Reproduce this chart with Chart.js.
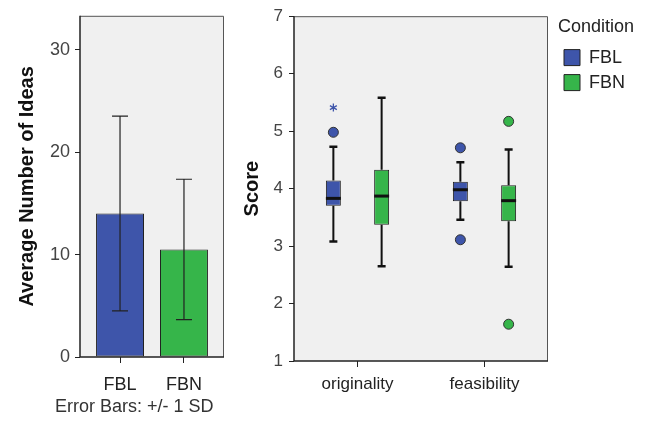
<!DOCTYPE html>
<html>
<head>
<meta charset="utf-8">
<script src="https://cdn.jsdelivr.net/npm/chart.js@4.4.0/dist/chart.umd.min.js"></script>
<style>
  html, body { margin: 0; padding: 0; background: #fff; }
  #wrap { position: relative; width: 646px; height: 423px; }
  #barWrap { position: absolute; left: 0; top: 0; width: 240px; height: 423px; }
  #boxWrap { position: absolute; left: 240px; top: 0; width: 406px; height: 423px; }
</style>
</head>
<body>
<div id="wrap">
  <div id="barWrap"><canvas id="barChart"></canvas></div>
  <div id="boxWrap"><canvas id="boxChart"></canvas></div>
</div>
<script>
// left panel: mean number of ideas, +/- 1 SD
const conditions = ['FBL', 'FBN'];
const meanIdeas = [14.0, 10.5];
const sdIdeas = [9.5, 6.85];

// right panel: score boxplots
const criteria = ['originality', 'feasibility'];
const fblLow = [3.08, 3.46];
const fblQ1 = [3.70, 3.78];
const fblMedian = [3.83, 3.98];
const fblQ3 = [4.14, 4.12];
const fblHigh = [4.73, 4.46];
const fblOutliers = [[4.98], [4.71, 3.11]];
const fblExtremes = [[5.41], []];

const fbnLow = [2.65, 2.64];
const fbnQ1 = [3.37, 3.43];
const fbnMedian = [3.87, 3.79];
const fbnQ3 = [4.33, 4.06];
const fbnHigh = [5.58, 4.68];
const fbnOutliers = [[], [5.17, 1.64]];
const fbnExtremes = [[], []];

const fontFamily = '"Liberation Sans", Arial, sans-serif';
const blue = '#3E55AA';
const green = '#36B54A';

const boxSeries = [
  { label: 'FBL', color: blue, low: fblLow, q1: fblQ1, median: fblMedian, q3: fblQ3, high: fblHigh, outliers: fblOutliers, extremes: fblExtremes },
  { label: 'FBN', color: green, low: fbnLow, q1: fbnQ1, median: fbnMedian, q3: fbnQ3, high: fbnHigh, outliers: fbnOutliers, extremes: fbnExtremes }
];

// grey plot background + frame
const plotFrame = {
  id: 'plotFrame',
  beforeDraw(chart) {
    const a = chart.chartArea;
    const ctx = chart.ctx;
    ctx.save();
    ctx.fillStyle = '#F0F0F0';
    ctx.fillRect(a.left, a.top, a.right - a.left, a.bottom - a.top);
    ctx.restore();
  },
  afterDatasetsDraw(chart) {
    const a = chart.chartArea;
    const ctx = chart.ctx;
    ctx.save();
    ctx.lineWidth = 1;
    ctx.strokeStyle = '#555';
    ctx.beginPath();
    ctx.moveTo(a.left, a.top + 0.5);
    ctx.lineTo(a.right - 0.5, a.top + 0.5);
    ctx.lineTo(a.right - 0.5, a.bottom);
    ctx.stroke();
    ctx.lineWidth = 1.5;
    ctx.strokeStyle = '#222';
    ctx.beginPath();
    ctx.moveTo(a.left, a.top);
    ctx.lineTo(a.left, a.bottom);
    ctx.lineTo(a.right, a.bottom);
    ctx.stroke();
    ctx.restore();
  }
};

const errorBars = {
  id: 'errorBars',
  afterDatasetsDraw(chart) {
    const ctx = chart.ctx;
    const y = chart.scales.y;
    const meta = chart.getDatasetMeta(0);
    ctx.save();
    ctx.strokeStyle = '#222';
    ctx.lineWidth = 1.2;
    meta.data.forEach((bar, i) => {
      const top = y.getPixelForValue(meanIdeas[i] + sdIdeas[i]);
      const bottom = y.getPixelForValue(meanIdeas[i] - sdIdeas[i]);
      ctx.beginPath();
      ctx.moveTo(bar.x, top);
      ctx.lineTo(bar.x, bottom);
      ctx.moveTo(bar.x - 8, top);
      ctx.lineTo(bar.x + 8, top);
      ctx.moveTo(bar.x - 8, bottom);
      ctx.lineTo(bar.x + 8, bottom);
      ctx.stroke();
    });
    ctx.restore();
  },
  afterDraw(chart) {
    const ctx = chart.ctx;
    ctx.save();
    ctx.fillStyle = '#333';
    ctx.font = '18px ' + fontFamily;
    ctx.textAlign = 'left';
    ctx.textBaseline = 'middle';
    ctx.fillText('Error Bars: +/- 1 SD', 55, chart.chartArea.bottom + 50);
    ctx.restore();
  }
};

const boxWhiskers = {
  id: 'boxWhiskers',
  afterDatasetsDraw(chart) {
    const ctx = chart.ctx;
    const y = chart.scales.y;
    boxSeries.forEach((s, d) => {
      const meta = chart.getDatasetMeta(d);
      meta.data.forEach((box, i) => {
        const x = box.x;
        const half = box.width / 2;
        const yHigh = y.getPixelForValue(s.high[i]);
        const yLow = y.getPixelForValue(s.low[i]);
        ctx.save();
        ctx.strokeStyle = '#111';
        ctx.lineWidth = 2;
        ctx.beginPath();
        ctx.moveTo(x, y.getPixelForValue(s.q3[i]));
        ctx.lineTo(x, yHigh);
        ctx.moveTo(x, y.getPixelForValue(s.q1[i]));
        ctx.lineTo(x, yLow);
        ctx.stroke();
        ctx.lineWidth = 2.5;
        ctx.beginPath();
        ctx.moveTo(x - 4, yHigh);
        ctx.lineTo(x + 4, yHigh);
        ctx.moveTo(x - 4, yLow);
        ctx.lineTo(x + 4, yLow);
        ctx.stroke();
        // median
        const yMed = y.getPixelForValue(s.median[i]);
        ctx.lineWidth = 3;
        ctx.beginPath();
        ctx.moveTo(x - half, yMed);
        ctx.lineTo(x + half, yMed);
        ctx.stroke();
        // outliers
        ctx.fillStyle = s.color;
        ctx.lineWidth = 1;
        ctx.strokeStyle = '#333';
        s.outliers[i].forEach(v => {
          ctx.beginPath();
          ctx.arc(x, y.getPixelForValue(v), 5, 0, Math.PI * 2);
          ctx.fill();
          ctx.stroke();
        });
        // extremes (asterisk)
        ctx.strokeStyle = s.color;
        ctx.lineWidth = 1.3;
        s.extremes[i].forEach(v => {
          const py = y.getPixelForValue(v);
          ctx.beginPath();
          for (let k = 0; k < 3; k++) {
            const ang = Math.PI / 2 + k * Math.PI / 3;
            ctx.moveTo(x - 4 * Math.cos(ang), py - 4 * Math.sin(ang));
            ctx.lineTo(x + 4 * Math.cos(ang), py + 4 * Math.sin(ang));
          }
          ctx.stroke();
        });
        ctx.restore();
      });
    });
  }
};

// nudge the legend to the right, like the SPSS output
const legendNudge = {
  id: 'legendNudge',
  afterLayout(chart) {
    chart.legend.left += 9;
    chart.legend.right += 9;
  }
};

new Chart(document.getElementById('barChart'), {
  type: 'bar',
  data: {
    datasets: [{
      data: conditions.map((c, i) => ({ x: i, y: meanIdeas[i] })),
      backgroundColor: [blue, green],
      borderColor: '#222',
      borderWidth: 1,
      borderSkipped: false,
      barPercentage: 0.75,
      categoryPercentage: 1.0
    }]
  },
  options: {
    responsive: true,
    maintainAspectRatio: false,
    animation: false,
    layout: { padding: { top: 15, right: 16, left: 0, bottom: 0 } },
    plugins: { legend: { display: false }, tooltip: { enabled: false } },
    scales: {
      x: {
        type: 'linear',
        min: -0.626,
        max: 1.626,
        offset: false,
        afterBuildTicks(s) { s.ticks = conditions.map((c, i) => ({ value: i })); },
        grid: { display: true, drawOnChartArea: false, offset: false, tickLength: 6, color: '#222' },
        border: { display: false },
        ticks: { color: '#222', padding: 11, font: { family: fontFamily, size: 18 }, callback: v => conditions[v] },
        afterFit(s) { s.height = 66; }
      },
      y: {
        min: 0,
        max: 33.3,
        ticks: { stepSize: 10, includeBounds: false, color: '#444', padding: 5, font: { family: fontFamily, size: 18 } },
        grid: { drawOnChartArea: false, tickLength: 5, color: '#222' },
        border: { display: false },
        title: {
          display: true,
          text: 'Average Number of Ideas',
          color: '#111',
          font: { family: fontFamily, size: 20, weight: 'bold' },
          padding: { top: 15, bottom: 0 }
        },
        afterFit(s) { s.width = 80; }
      }
    }
  },
  plugins: [plotFrame, errorBars]
});

new Chart(document.getElementById('boxChart'), {
  type: 'bar',
  data: {
    labels: criteria,
    datasets: boxSeries.map(s => ({
      label: s.label,
      data: s.q1.map((v, i) => [v, s.q3[i]]),
      backgroundColor: s.color,
      borderColor: '#222',
      borderWidth: 1,
      borderSkipped: false,
      barPercentage: 0.31,
      categoryPercentage: 0.76
    }))
  },
  options: {
    responsive: true,
    maintainAspectRatio: false,
    animation: false,
    layout: { padding: { top: 15, right: 20, left: 0, bottom: 0 } },
    plugins: {
      tooltip: { enabled: false },
      legend: {
        position: 'right',
        align: 'start',
        title: {
          display: true,
          text: 'Condition',
          color: '#222',
          font: { family: fontFamily, size: 18 },
          padding: { top: 3, bottom: 2 }
        },
        labels: {
          boxWidth: 16,
          boxHeight: 16,
          padding: 7,
          color: '#222',
          font: { family: fontFamily, size: 18 }
        }
      }
    },
    scales: {
      x: {
        grid: { display: true, drawOnChartArea: false, offset: false, tickLength: 6, color: '#222' },
        border: { display: false },
        ticks: { color: '#222', padding: 7, font: { family: fontFamily, size: 17 } },
        afterFit(s) { s.height = 62; }
      },
      y: {
        min: 1,
        max: 7,
        ticks: { stepSize: 1, color: '#444', padding: 6, font: { family: fontFamily, size: 17 } },
        grid: { drawOnChartArea: false, tickLength: 5, color: '#222' },
        border: { display: false },
        title: {
          display: true,
          text: 'Score',
          color: '#111',
          font: { family: fontFamily, size: 20, weight: 'bold' },
          padding: { top: 0, bottom: 0 }
        },
        afterFit(s) { s.width = 54; }
      }
    }
  },
  plugins: [plotFrame, boxWhiskers, legendNudge]
});
</script>
</body>
</html>
